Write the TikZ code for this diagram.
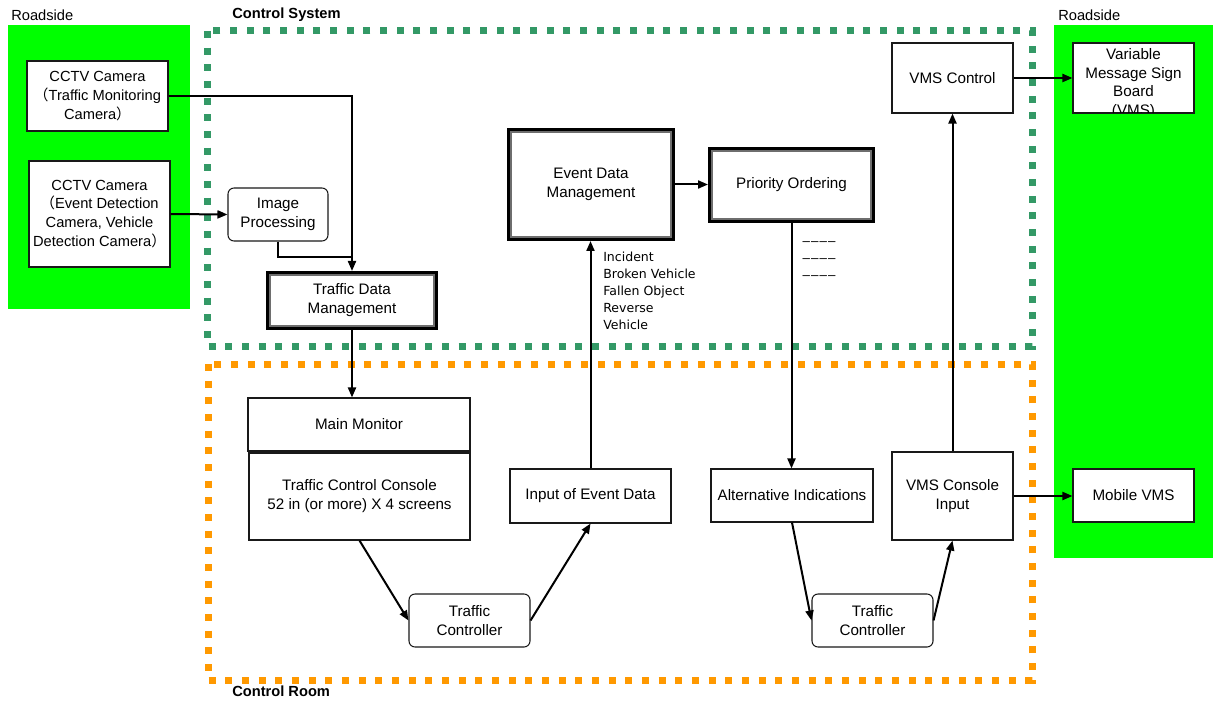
\documentclass[tikz,border=0pt]{standalone}
\usepackage{fontspec}
\setmainfont{Liberation Sans}
\newfontfamily\cjk{Noto Sans CJK JP}
\newfontfamily\listfont{DejaVu Sans}
\usetikzlibrary{arrows.meta}
\definecolor{roadgreen}{RGB}{0,255,0}
\definecolor{sysgreen}{RGB}{51,153,102}
\definecolor{roomorange}{RGB}{255,153,0}
\definecolor{boxline}{RGB}{25,25,25}
\definecolor{innerline}{RGB}{110,110,110}

% thin inner line of a double-framed box
\newcommand\innerframe[1]{%
  \draw[line width=0.8pt, draw=innerline]
    ([shift={(4,-4)}]#1.south west) rectangle ([shift={(-4,4)}]#1.north east);}
% a short rule of four separated dashes
\newcommand\dashrule{–\kern0.8pt–\kern0.8pt–\kern0.8pt–}

\begin{document}
\begin{tikzpicture}[x=0.75pt,y=-0.75pt,
  every node/.style={font=\fontsize{11.4}{14.2}\selectfont},
  box/.style={draw=boxline, line width=0.8pt, fill=white, align=center, inner sep=0.5pt},
  rbox/.style={box, rounded corners=4.5pt},
  cambox/.style={box, font=\fontsize{11}{14.2}\selectfont},
  dblbox/.style={box, draw=black, line width=3pt},
  area/.style={font=\fontsize{11}{14}\selectfont, anchor=west, inner sep=0pt},
  arealabel/.style={font=\bfseries\fontsize{11}{14}\selectfont, anchor=west, inner sep=0pt},
  frame/.style={line width=5.25pt, dash pattern=on 5.25pt off 7.25pt},
  conn/.style={line width=1.5pt, draw=black, -{Triangle[length=7.5pt,width=6pt]}},
  link/.style={line width=1.5pt, draw=black}
]
\path[use as bounding box] (0,0) rectangle (1213,702);

% roadside areas
\fill[roadgreen] (8,25) rectangle (190,309);
\fill[roadgreen] (1054,25) rectangle (1213,558);
\node[area] (roadL) at (11,15) {Roadside};
\node[area] (roadR) at (1058,15) {Roadside};

% control system and control room frames
\draw[frame, draw=sysgreen] (207,31) rectangle (1032,346);
\draw[frame, draw=roomorange] (208,364) rectangle (1032,680);
\node[arealabel] (sysl) at (232,15) {Control System};
\node[arealabel] (rooml) at (232,691) {Control Room};

% roadside equipment
\node[cambox, minimum width=105.75pt, minimum height=52.5pt] (cam1) at (97.5,96)
  {CCTV Camera\\{\cjk （}Traffic Monitoring\\Camera{\cjk ）}};
\node[cambox, minimum width=105.75pt, minimum height=79.5pt] (cam2) at (99.5,214)
  {CCTV Camera\\{\cjk （}Event Detection\\Camera, Vehicle\\Detection Camera{\cjk ）}};
\node[box, minimum width=90.75pt, minimum height=52.5pt] (vmsb) at (1133.5,78) {};
\begin{scope}
  \clip (vmsb.south west) rectangle (vmsb.north east);
  \node[align=center, inner sep=0pt, font=\fontsize{11.4}{13.9}\selectfont] (vmsbtext) at (1133.5,83.5)
    {Variable\\Message Sign\\Board\\(VMS)};
\end{scope}
\draw[draw=boxline, line width=0.8pt] (vmsb.south west) rectangle (vmsb.north east);
\node[box, minimum width=90.75pt, minimum height=39.75pt] (mvms) at (1133.5,495.5) {Mobile VMS};

% control system
\node[rbox, minimum width=75pt, minimum height=39.75pt] (imgp) at (278,214.5) {Image\\Processing};
\node[dblbox, minimum width=126pt, minimum height=41.25pt] (tdm) at (352,300.5) {Traffic Data\\Management};
\innerframe{tdm}
\node[dblbox, minimum width=123pt, minimum height=81.75pt] (edm) at (591,184.5) {Event Data\\Management};
\innerframe{edm}
\node[dblbox, minimum width=122.25pt, minimum height=54pt] (po) at (791.5,185) {Priority Ordering};
\innerframe{po}
\node[box, minimum width=90.75pt, minimum height=52.5pt] (vmsc) at (952.5,78) {VMS Control};

\node[align=left, anchor=west, inner sep=0pt, font=\listfont\fontsize{9.4}{12.75}\selectfont] (evtypes)
  at (603,290.5) {Incident\\Broken Vehicle\\Fallen Object\\Reverse\\Vehicle};
\node[align=center, inner sep=0pt, font=\fontsize{10}{12.75}\selectfont] (ranks)
  at (819,261) {\dashrule\\\dashrule\\\dashrule};

% control room
\node[box, minimum width=166.5pt, minimum height=39.75pt] (mm) at (359,424.5) {Main Monitor};
\node[box, minimum width=165.75pt, minimum height=65.25pt] (tcc) at (359.5,496.5)
  {Traffic Control Console\\52 in (or more) X 4 screens};
\node[box, minimum width=120.75pt, minimum height=40.5pt] (ied) at (590.5,496) {Input of Event Data};
\node[rbox, minimum width=90.75pt, minimum height=39.75pt] (tc1) at (469.5,620.5) {Traffic\\Controller};
\node[box, minimum width=121.5pt, minimum height=39.75pt] (ai) at (792,495.5) {Alternative Indications};
\node[box, minimum width=90.75pt, minimum height=66pt] (vci) at (952.5,496) {VMS Console\\Input};
\node[rbox, minimum width=90.75pt, minimum height=39.75pt] (tc2) at (872.5,620.5) {Traffic\\Controller};

% connectors
\coordinate (junc) at (352,257);
\draw[conn] (cam1.east) -| (tdm.north);
\draw[link] (imgp.south) |- (junc);
\draw[conn] (cam2.east) -- (imgp.west);
\draw[conn] (tdm.south) -- (tdm.south |- mm.north);
\draw[conn] (tcc.south) -- (tc1.west);
\draw[conn] (tc1.east) -- (ied.south);
\draw[conn] (ied.north) -- (ied.north |- edm.south);
\draw[conn] (edm.east) -- (edm.east -| po.west);
\draw[conn] (po.south) -- (po.south |- ai.north);
\draw[conn] (ai.south) -- (tc2.west);
\draw[conn] (tc2.east) -- (vci.south);
\draw[conn] (vci.north) -- (vci.north |- vmsc.south);
\draw[conn] (vmsc.east) -- (vmsc.east -| vmsb.west);
\draw[conn] (vci.east) -- (vci.east -| mvms.west);
\end{tikzpicture}
\end{document}
